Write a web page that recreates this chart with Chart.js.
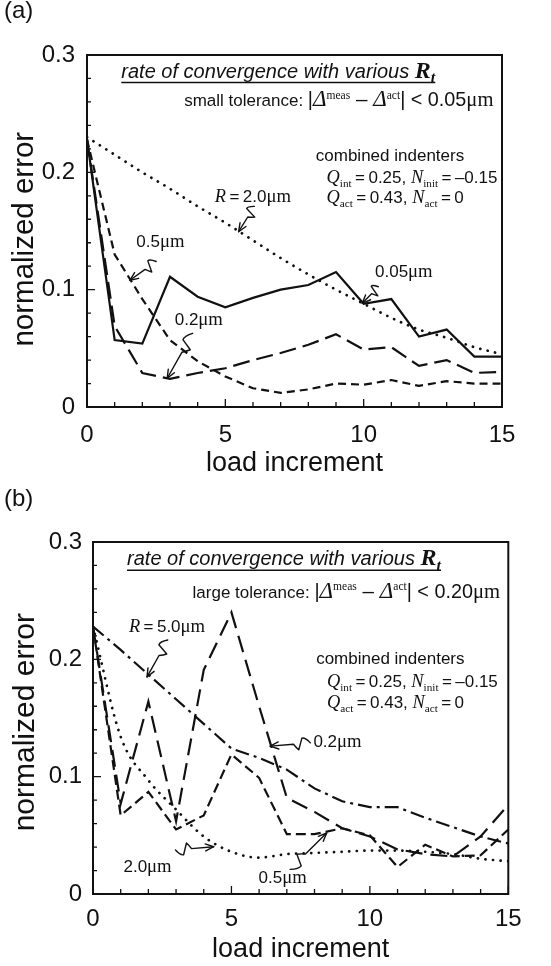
<!DOCTYPE html>
<html><head><meta charset="utf-8">
<script src="https://cdn.jsdelivr.net/npm/chart.js@4.4.1/dist/chart.umd.min.js"></script>
<style>
html,body{margin:0;padding:0;background:#fff;}
#wrap{position:relative;width:551px;height:966px;overflow:hidden;background:#fff;}
.pane{position:absolute;left:0;}
.plab{position:absolute;left:4px;font:24px "Liberation Sans",Arial,sans-serif;line-height:24px;color:#111;z-index:2;}
</style></head><body>
<div id="wrap">
  <div class="pane" style="top:0px"><canvas id="ca" width="551" height="480"></canvas></div>
  <div class="pane" style="top:480px"><canvas id="cb" width="551" height="486"></canvas></div>
  <div class="plab" style="top:-2px">(a)</div>
  <div class="plab" style="top:486px">(b)</div>
</div>
<script>
// ---------------- data ----------------
const loadIncrements = [0,1,2,3,4,5,6,7,8,9,10,11,12,13,14,15];
const xTickLabels = ['0','5','10','15'];
const yTickLabels = ['0','0.1','0.2','0.3'];

// panel (a): small tolerance
const errA_R005 = [0.228,0.057,0.054,0.111,0.094,0.085,0.093,0.100,0.104,0.115,0.088,0.092,0.060,0.066,0.043,0.043];
const errA_R05  = [0.228,0.130,0.092,0.057,0.039,0.026,0.016,0.012,0.015,0.020,0.019,0.023,0.018,0.022,0.020,0.020];
const errA_R02  = [0.228,0.069,0.029,0.024,0.029,0.033,0.040,0.046,0.053,0.062,0.049,0.051,0.035,0.040,0.029,0.030];
const errA_R20  = [0.230,0.215,0.200,0.186,0.171,0.157,0.142,0.127,0.113,0.100,0.088,0.076,0.066,0.059,0.051,0.045];

// panel (b): large tolerance
const errB_R50  = [0.228,0.208,0.187,0.166,0.145,0.124,0.116,0.106,0.090,0.079,0.074,0.074,0.065,0.057,0.049,0.043];
const errB_R02  = [0.228,0.077,0.164,0.062,0.191,0.240,0.160,0.082,0.070,0.056,0.049,0.038,0.034,0.032,0.049,0.076];
const errB_R05  = [0.228,0.067,0.087,0.055,0.067,0.119,0.099,0.051,0.051,0.056,0.050,0.023,0.042,0.032,0.033,0.055];
const errB_R20  = [0.228,0.134,0.097,0.072,0.049,0.036,0.031,0.034,0.035,0.036,0.037,0.037,0.036,0.034,0.030,0.028];

// ---------------- helpers ----------------
const FONT = '"Liberation Sans", Arial, Helvetica, sans-serif';
const SERIF = '"Liberation Serif", "Times New Roman", Times, serif';
const AFS = 17;    // annotation font size
const TS = '\u2009'; // thin space

const pts = arr => arr.map((v,i)=>({x: loadIncrements[i], y: v}));

// style -> [css prefix, family, default multiplier, dy factor]
const STY = {
  sans: ['', FONT, 1.0, 0],
  it:   ['italic ', FONT, 1.0, 0],
  serI: ['italic ', SERIF, 1.08, 0],
  ser:  ['', SERIF, 1.1, 0],
  bserI:['italic bold ', SERIF, 1.2, 0],
  bsubI:['italic bold ', SERIF, 0.8, 0.28],
  sup:  ['', SERIF, 0.68, -0.45],
  sub:  ['', SERIF, 0.66, 0.22]
};
function segFont(s, fs){
  const st = STY[s[1]];
  const size = fs * (s[2]!==undefined ? s[2] : st[2]);
  return `${st[0]}${size}px ${st[1]}`;
}
function drawRich(ctx, segs, x, y, align, fs, underline){
  ctx.save();
  ctx.translate(x, y);
  ctx.textBaseline = 'alphabetic'; ctx.textAlign = 'left'; ctx.fillStyle = '#111';
  const w = segs.map(s=>{ ctx.font = segFont(s, fs); return ctx.measureText(s[0]).width; });
  const total = w.reduce((a,b)=>a+b,0);
  let cx = align==='right' ? -total : 0;
  const x0 = cx;
  segs.forEach((s,i)=>{ ctx.font = segFont(s, fs); ctx.fillText(s[0], cx, STY[s[1]][3]*fs); cx += w[i]; });
  if (underline){
    ctx.strokeStyle = '#111'; ctx.lineWidth = 1.5;
    ctx.beginPath(); ctx.moveTo(x0, underline); ctx.lineTo(x0+total, underline); ctx.stroke();
  }
  ctx.restore();
}
function squiggleArrow(ctx, ax, ay, bx, by){
  const dx=bx-ax, dy=by-ay, L=Math.hypot(dx,dy), ux=dx/L, uy=dy/L, nx=-uy, ny=ux;
  const w = 6;
  ctx.save();
  ctx.strokeStyle='#111'; ctx.lineWidth=1.4; ctx.lineJoin='round'; ctx.lineCap='round';
  ctx.beginPath();
  ctx.moveTo(ax,ay);
  ctx.quadraticCurveTo(ax+ux*L*0.12+nx*w, ay+uy*L*0.12+ny*w, ax+ux*L*0.2+nx*w*0.9, ay+uy*L*0.2+ny*w*0.9);
  ctx.lineTo(ax+ux*L*0.3-nx*w, ay+uy*L*0.3-ny*w);
  ctx.quadraticCurveTo(ax+ux*L*0.36-nx*w*0.6, ay+uy*L*0.36-ny*w*0.6, ax+ux*L*0.42, ay+uy*L*0.42);
  ctx.lineTo(bx,by);
  ctx.stroke();
  const hl=9, ha=0.4;
  const ang = Math.atan2(dy,dx);
  ctx.beginPath();
  ctx.moveTo(bx - hl*Math.cos(ang-ha), by - hl*Math.sin(ang-ha));
  ctx.lineTo(bx,by);
  ctx.lineTo(bx - hl*Math.cos(ang+ha), by - hl*Math.sin(ang+ha));
  ctx.stroke();
  ctx.restore();
}

const framePlugin = {
  id: 'frameTicks',
  afterDatasetsDraw(chart){
    const {ctx, chartArea:{left,right,top,bottom}, scales:{x,y}} = chart;
    ctx.save();
    ctx.strokeStyle='#111'; ctx.lineWidth=2;
    ctx.strokeRect(left, top, right-left, bottom-top);
    ctx.lineWidth=1.3;
    ctx.beginPath();
    for (let k=0;k<=15;k++){
      const px = x.getPixelForValue(k), len = (k%5===0)?8:5;
      ctx.moveTo(px,bottom); ctx.lineTo(px,bottom-len);
    }
    for (let k=0;k<=15;k++){
      const py = y.getPixelForValue(k*0.02), len = (k%5===0)?8:4;
      ctx.moveTo(left,py); ctx.lineTo(left+len,py);
    }
    ctx.stroke();
    ctx.restore();
  }
};
const annotPlugin = {
  id: 'annot',
  afterDraw(chart, args, opts){
    const {ctx, scales:{x,y}} = chart;
    (opts.texts||[]).forEach(t=>{
      const ul = t.underline!==undefined ? (y.getPixelForValue(t.underline)-y.getPixelForValue(t.y)) : null;
      drawRich(ctx, t.segs, x.getPixelForValue(t.x), y.getPixelForValue(t.y), t.align||'left', t.fs||AFS, ul);
    });
    (opts.arrows||[]).forEach(a=>{
      squiggleArrow(ctx, x.getPixelForValue(a.from[0]), y.getPixelForValue(a.from[1]),
                         x.getPixelForValue(a.to[0]), y.getPixelForValue(a.to[1]));
    });
  }
};

function lineDs(data, dash, width, cap, mono){
  return {data: pts(data), borderColor:'#111', backgroundColor:'#111', borderWidth: width,
    borderDash: dash, borderCapStyle: cap||'butt', pointRadius:0, tension:0,
    cubicInterpolationMode: mono ? 'monotone' : 'default', fill:false};
}

function makeChart(id, cfg){
  const H = cfg.H;
  return new Chart(document.getElementById(id), {
    type:'line',
    data:{datasets: cfg.datasets},
    options:{
      responsive:false, animation:false, devicePixelRatio:1,
      layout:{padding:{left:0, right:cfg.padRight, top:cfg.top, bottom:0}},
      plugins:{legend:{display:false}, tooltip:{enabled:false},
        annot:{texts:cfg.texts, arrows:cfg.arrows}},
      scales:{
        x:{type:'linear', min:0, max:15, border:{display:false},
          grid:{display:false, drawTicks:false},
          ticks:{stepSize:5, padding:cfg.xPad, color:'#111', maxRotation:0, autoSkip:false,
            font:{family:FONT, size:24},
            callback:(v)=>{ const k=Math.round(v/5); return Math.abs(v-5*k)<1e-6 ? xTickLabels[k] : ''; }},
          title:{display:true, text:'load increment', color:'#111',
            font:{family:FONT, size:27}, padding:{top:0,bottom:0}},
          afterFit:(s)=>{ s.height = H - cfg.bottom; }
        },
        y:{type:'linear', min:0, max:0.3, border:{display:false},
          grid:{display:false, drawTicks:false},
          ticks:{stepSize:0.1, padding:cfg.yPad, color:'#111',
            font:{family:FONT, size:24},
            callback:(v)=>{ const k=Math.round(v*10); return Math.abs(v*10-k)<1e-6 ? yTickLabels[k] : ''; }},
          title:{display:true, text:cfg.yTitle, color:'#111',
            font:{family:FONT, size:cfg.yTitleSize}, padding:{top:7.5,bottom:0}},
          afterFit:(s)=>{ s.width = cfg.left; }
        }
      }
    },
    plugins:[framePlugin, annotPlugin]
  });
}

const DOT = [0.1, 7.5];
const tolSegs = (word, val) => [
  [word+' tolerance: ','sans',1.03],['|','sans',1.2],['Δ','serI',1.4],['meas','sup',0.7],[' – ','sans',1.25],
  ['Δ','serI',1.4],['act','sup',0.7],['|','sans',1.2],[' < '+val,'sans',1.2],['μm','ser',1.25]];
const qIntSegs = [['Q','serI'],['int','sub'],[TS+'='+TS+'0.25, ','sans'],['N','serI'],['init','sub'],[TS+'='+TS+'–0.15','sans']];
const qActSegs = [['Q','serI'],['act','sub'],[TS+'='+TS+'0.43, ','sans'],['N','serI'],['act','sub'],[TS+'='+TS+'0','sans']];
const titleSegs = [['rate of convergence with various ','it'],['R','bserI'],['t','bsubI']];

// ---------------- panel (a) ----------------
makeChart('ca', {
  H:480, top:55, bottom:407, left:87, padRight:49, xPad:14, yPad:12,
  yTitle:'normalized error  ', yTitleSize:29.5,
  datasets:[
    lineDs(errA_R005, [], 2.2),
    lineDs(errA_R05, [8,5], 2.2),
    lineDs(errA_R02, [17,7], 2.2),
    lineDs(errA_R20, DOT, 2.7, 'round', true)
  ],
  texts:[
    {x:1.24, y:0.2805, fs:20, underline:0.2765, segs:titleSegs},
    {x:14.69, y:0.2565, align:'right', fs:16.5, segs:tolSegs('small','0.05')},
    {x:8.27, y:0.210, segs:[['combined indenters','sans']]},
    {x:8.66, y:0.1905, segs:qIntSegs},
    {x:8.66, y:0.1735, segs:qActSegs},
    {x:4.62, y:0.175, segs:[['R','serI'],[TS+'='+TS+'2.0','sans'],['μm','ser']]},
    {x:1.78, y:0.1366, segs:[['0.5','sans'],['μm','ser']]},
    {x:10.41, y:0.111, segs:[['0.05','sans'],['μm','ser']]},
    {x:3.17, y:0.070, segs:[['0.2','sans'],['μm','ser']]}
  ],
  arrows:[
    {from:[6.05,0.171], to:[5.48,0.1494]},
    {from:[2.5,0.124], to:[1.55,0.108]},
    {from:[10.53,0.1025], to:[9.95,0.0884]},
    {from:[3.82,0.0628], to:[2.9,0.0245]}
  ]
});

// ---------------- panel (b) ----------------
makeChart('cb', {
  H:486, top:62, bottom:414, left:93, padRight:42.7, xPad:11, yPad:11,
  yTitle:'normalized error ', yTitleSize:30,
  datasets:[
    lineDs(errB_R50, [14,5,3,5], 2.2),
    lineDs(errB_R02, [17,8], 2.2),
    lineDs(errB_R05, [10,5], 2.2),
    lineDs(errB_R20, DOT, 2.7, 'round', true)
  ],
  texts:[
    {x:1.23, y:0.280, fs:20, underline:0.276, segs:titleSegs},
    {x:14.7, y:0.2525, align:'right', fs:16.5, segs:tolSegs('large','0.20')},
    {x:1.3, y:0.2236, segs:[['R','serI'],[TS+'='+TS+'5.0','sans'],['μm','ser']]},
    {x:8.06, y:0.1957, segs:[['combined indenters','sans']]},
    {x:8.45, y:0.176, segs:qIntSegs},
    {x:8.45, y:0.1585, segs:qActSegs},
    {x:7.96, y:0.1256, segs:[['0.2','sans'],['μm','ser']]},
    {x:1.1, y:0.019, segs:[['2.0','sans'],['μm','ser']]},
    {x:5.98, y:0.0094, segs:[['0.5','sans'],['μm','ser']]}
  ],
  arrows:[
    {from:[2.70,0.2165], to:[1.95,0.185]},
    {from:[7.85,0.1288], to:[6.4,0.126]},
    {from:[2.98,0.0375], to:[4.36,0.0403]},
    {from:[7.12,0.021], to:[8.44,0.052]}
  ]
});
</script>
</body></html>
